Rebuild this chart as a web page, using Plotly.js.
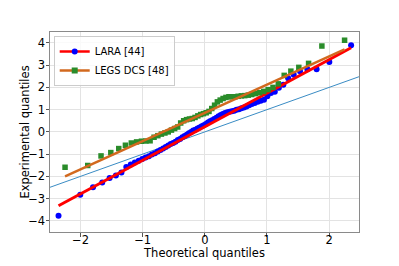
<!DOCTYPE html>
<html>
<head>
<meta charset="utf-8">
<script src="https://cdn.plot.ly/plotly-3.0.1.min.js"></script>
<style>html,body{margin:0;padding:0;background:#fff;}#chart{width:399px;height:266px;}</style>
</head>
<body>
<div id="chart"></div>
<script>
// LARA [44] sample: theoretical vs experimental quantiles
const laraX = [-2.353,-2.003,-1.798,-1.650,-1.531,-1.430,-1.341,-1.263,-1.191,-1.126,-1.064,-1.006,-0.952,-0.900,-0.851,-0.803,-0.757,-0.713,-0.670,-0.629,-0.588,-0.549,-0.510,-0.472,-0.434,-0.398,-0.361,-0.326,-0.290,-0.256,-0.221,-0.187,-0.152,-0.118,-0.084,-0.050,-0.017,0.017,0.050,0.084,0.118,0.152,0.187,0.221,0.256,0.290,0.326,0.361,0.398,0.434,0.472,0.510,0.549,0.588,0.629,0.670,0.713,0.757,0.803,0.851,0.900,0.952,1.006,1.064,1.126,1.191,1.263,1.341,1.430,1.531,1.650,1.798,2.003,2.353];
const laraY = [-3.77,-2.82,-2.49,-2.28,-2.07,-1.96,-1.83,-1.58,-1.47,-1.38,-1.30,-1.22,-1.15,-1.10,-1.02,-0.96,-0.88,-0.81,-0.75,-0.68,-0.61,-0.55,-0.50,-0.44,-0.37,-0.32,-0.24,-0.18,-0.13,-0.06,0.00,0.06,0.10,0.15,0.20,0.25,0.30,0.36,0.42,0.48,0.52,0.58,0.64,0.70,0.76,0.80,0.85,0.88,0.90,0.93,0.95,0.99,1.02,1.06,1.10,1.14,1.20,1.25,1.30,1.35,1.40,1.45,1.60,1.75,1.80,1.98,2.12,2.41,2.57,2.73,2.81,2.81,3.14,3.89];
// LEGS DCS [48] sample
const legsX = [-2.248,-1.883,-1.669,-1.512,-1.384,-1.277,-1.182,-1.097,-1.019,-0.947,-0.880,-0.816,-0.755,-0.698,-0.642,-0.588,-0.536,-0.485,-0.436,-0.388,-0.340,-0.294,-0.247,-0.202,-0.157,-0.112,-0.067,-0.022,0.022,0.067,0.112,0.157,0.202,0.247,0.294,0.340,0.388,0.436,0.485,0.536,0.588,0.642,0.698,0.755,0.816,0.880,0.947,1.019,1.097,1.182,1.277,1.384,1.512,1.669,1.883,2.248];
const legsY = [-1.59,-1.51,-1.08,-0.93,-0.75,-0.60,-0.50,-0.45,-0.42,-0.41,-0.40,-0.24,-0.17,-0.10,-0.05,0.00,0.08,0.15,0.22,0.40,0.50,0.55,0.58,0.60,0.65,0.72,0.78,0.82,0.86,0.92,1.05,1.20,1.35,1.43,1.50,1.55,1.58,1.58,1.58,1.60,1.62,1.63,1.65,1.68,1.72,1.76,1.82,1.90,2.00,2.16,2.54,2.73,2.90,3.08,3.86,4.12];
// fitted regression lines (endpoints)
const laraFitX = [-2.353, 2.353];
const laraFitY = [-3.32, 3.78];
const legsFitX = [-2.248, 2.248];
const legsFitY = [-2.00, 3.71];
// 45-degree reference line
const refX = [-2.7, 2.7];
const refY = [-2.7, 2.7];
const seriesNames = ['LARA [44]', 'LEGS DCS [48]'];
const xTicks = [-2, -1, 0, 1, 2];
const yTicks = [-4, -3, -2, -1, 0, 1, 2, 3, 4];

const traces = [
  {x: refX, y: refY, mode: 'lines', line: {color: '#3a8cc4', width: 1}, showlegend: false, hoverinfo: 'skip'},
  {x: laraX, y: laraY, mode: 'markers', marker: {color: '#0000ff', size: 6, symbol: 'circle'}, showlegend: false},
  {x: laraFitX, y: laraFitY, mode: 'lines', line: {color: '#ff0000', width: 3}, showlegend: false},
  {x: legsX, y: legsY, mode: 'markers', marker: {color: '#2a8c2a', size: 5.5, symbol: 'square'}, showlegend: false},
  {x: legsFitX, y: legsFitY, mode: 'lines', line: {color: '#d2691e', width: 2.5}, showlegend: false},
  {x: [null], y: [null], name: seriesNames[0], mode: 'lines+markers', line: {color: '#ff0000', width: 2.5}, marker: {color: '#0000ff', size: 6, symbol: 'circle'}},
  {x: [null], y: [null], name: seriesNames[1], mode: 'lines+markers', line: {color: '#d2691e', width: 2.5}, marker: {color: '#2a8c2a', size: 6, symbol: 'square'}}
];

const axisCommon = {
  showline: true, mirror: true, linecolor: '#8a8a8a', linewidth: 1,
  showgrid: true, gridcolor: '#e3e3e3', gridwidth: 1,
  zeroline: false, ticks: 'outside', ticklen: 3.5, tickcolor: '#555', tickwidth: 1,
  automargin: false,
  tickfont: {family: 'DejaVu Sans', size: 11.5, color: '#000'}
};

const layout = {
  width: 399, height: 266,
  margin: {l: 50, r: 40, t: 32, b: 34},
  paper_bgcolor: '#ffffff', plot_bgcolor: '#ffffff',
  font: {family: 'DejaVu Sans', color: '#000'},
  xaxis: Object.assign({}, axisCommon, {
    range: [-2.49, 2.48], tickvals: xTicks, ticklabelstandoff: -6,
    title: {text: 'Theoretical quantiles', font: {family: 'DejaVu Sans', size: 11.5, color: '#000'}}
  }),
  yaxis: Object.assign({}, axisCommon, {
    range: [-4.5, 4.49], tickvals: yTicks, ticklabelstandoff: -2,
    title: {text: 'Experimental quantiles', font: {family: 'DejaVu Sans', size: 11.5, color: '#000'}}
  }),
  legend: {
    x: 0.012, y: 0.98, xanchor: 'left', yanchor: 'top',
    bgcolor: 'rgba(255,255,255,0.8)', bordercolor: '#cccccc', borderwidth: 1,
    font: {family: 'DejaVu Sans', size: 10, color: '#000'},
    tracegroupgap: 0, itemwidth: 30
  },
  showlegend: true
};

Plotly.newPlot('chart', traces, layout, {displayModeBar: false, staticPlot: true}).then(function (gd) {
  // nudge axis titles to match reference placement
  const xt = gd.querySelector('.g-xtitle text');
  const yt = gd.querySelector('.g-ytitle text');
  if (xt) xt.setAttribute('transform', 'translate(0,-6)');
  if (yt) { const cur = yt.getAttribute('transform') || ''; yt.setAttribute('transform', 'translate(12,0) ' + cur); }
});
</script>
</body>
</html>
